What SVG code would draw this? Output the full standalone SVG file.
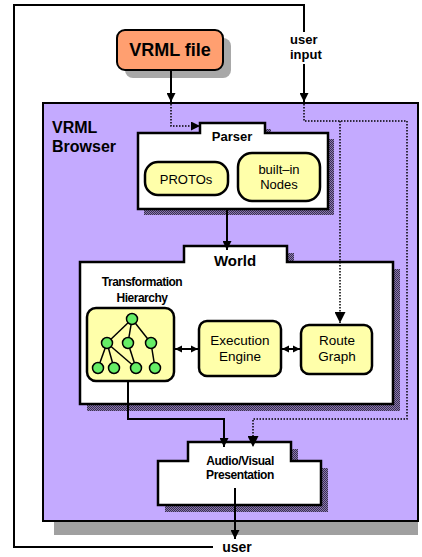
<svg xmlns="http://www.w3.org/2000/svg" width="422" height="557" viewBox="0 0 422 557">
<defs>
<pattern id="dither" width="2" height="2" patternUnits="userSpaceOnUse">
<rect width="2" height="2" fill="#8a78b0"/>
<rect width="1" height="1" fill="#3a3050"/>
<rect x="1" y="1" width="1" height="1" fill="#3a3050"/>
</pattern>
<marker id="ah" viewBox="0 0 10 10" refX="10" refY="5" markerWidth="9" markerHeight="9" markerUnits="userSpaceOnUse" orient="auto-start-reverse">
<path d="M0,0 L10,5 L0,10 Z" fill="#000"/>
</marker>
<marker id="ahs" viewBox="0 0 10 10" refX="10" refY="5" markerWidth="7" markerHeight="8" markerUnits="userSpaceOnUse" orient="auto-start-reverse">
<path d="M0,0 L10,5 L0,10 Z" fill="#000"/>
</marker>
<marker id="ahb" viewBox="0 0 10 10" refX="10" refY="5" markerWidth="11" markerHeight="11" markerUnits="userSpaceOnUse" orient="auto-start-reverse">
<path d="M0,0 L10,5 L0,10 Z" fill="#000"/>
</marker>
</defs>
<style>
.b{font-family:"Liberation Sans",Arial,sans-serif;font-weight:bold;fill:#000}
.r{font-family:"Liberation Sans",Arial,sans-serif;font-weight:normal;fill:#000}
.box{stroke:#000;stroke-width:2.5;fill:#fff}
.yel{fill:#ffffaa;stroke:#000;stroke-width:2.5}
.sh{fill:url(#dither)}
.ln{fill:none;stroke:#000;stroke-width:2}
.dot{fill:none;stroke:#000;stroke-width:1.5;stroke-dasharray:1.5 1.5}
.gn{fill:#66ee66;stroke:#000;stroke-width:1.5}
.tl{stroke:#000;stroke-width:1.5}
</style>
<rect width="422" height="557" fill="#fff"/>

<g id="browser">
<rect x="54" y="521" width="364" height="14" fill="#a0a0a0"/>
<rect x="43" y="103" width="375" height="418" fill="#c4aaff" stroke="#000" stroke-width="2"/>
<text class="b" x="52" y="133" font-size="16">VRML</text>
<text class="b" x="52" y="152" font-size="16">Browser</text>
</g>

<g id="vrml-file">
<rect x="125" y="38" width="106" height="40" rx="8" fill="#a8a8a8"/>
<rect x="117" y="30" width="106" height="40" rx="8" fill="#ff9f70" stroke="#000" stroke-width="2"/>
<text class="b" x="170" y="56" font-size="18" text-anchor="middle">VRML file</text>
</g>

<g id="user-input">
<text class="b" x="290" y="44" font-size="13">user</text>
<text class="b" x="290" y="59" font-size="13">input</text>
</g>

<g id="parser">
<path class="sh" d="M144,139 H206 V129 H271 V139 H334 V215 H144 Z"/>
<path class="box" d="M138,133 H200 V123 H265 V133 H328 V209 H138 Z"/>
<text class="b" x="232" y="141" font-size="13" text-anchor="middle">Parser</text>
</g>

<g id="protos">
<rect class="yel" x="145" y="162" width="83" height="33" rx="13"/>
<text class="r" x="186" y="184" font-size="13" text-anchor="middle">PROTOs</text>
</g>

<g id="builtin">
<rect class="yel" x="238" y="153" width="82" height="48" rx="14"/>
<text class="r" x="279" y="174" font-size="13" text-anchor="middle">built–in</text>
<text class="r" x="279" y="189" font-size="13" text-anchor="middle">Nodes</text>
</g>

<g id="world">
<path class="sh" d="M87,269 H191 V253 H294 V269 H400 V411 H87 Z"/>
<path class="box" d="M80,262 H184 V246 H287 V262 H393 V404 H80 Z"/>
<text class="b" x="235" y="266" font-size="15" text-anchor="middle">World</text>
<text class="b" x="142" y="286" font-size="12" text-anchor="middle" letter-spacing="-0.5">Transformation</text>
<text class="b" x="142" y="302" font-size="12" text-anchor="middle" letter-spacing="-0.5">Hierarchy</text>
</g>

<g id="transformation-hierarchy">
<rect class="yel" x="87" y="308" width="87" height="73" rx="9"/>
<line class="tl" x1="132" y1="319" x2="107" y2="343"/>
<line class="tl" x1="132" y1="319" x2="128" y2="343"/>
<line class="tl" x1="132" y1="319" x2="151" y2="343"/>
<line class="tl" x1="107" y1="343" x2="98" y2="368"/>
<line class="tl" x1="107" y1="343" x2="114" y2="368"/>
<line class="tl" x1="107" y1="343" x2="136" y2="368"/>
<line class="tl" x1="128" y1="343" x2="136" y2="368"/>
<line class="tl" x1="151" y1="343" x2="155" y2="368"/>
<circle class="gn" cx="132" cy="319" r="5.5"/>
<circle class="gn" cx="107" cy="343" r="5.5"/>
<circle class="gn" cx="128" cy="343" r="5.5"/>
<circle class="gn" cx="151" cy="343" r="5.5"/>
<circle class="gn" cx="98" cy="368" r="5.5"/>
<circle class="gn" cx="114" cy="368" r="5.5"/>
<circle class="gn" cx="136" cy="368" r="5.5"/>
<circle class="gn" cx="155" cy="368" r="5.5"/>
</g>

<g id="execution-engine">
<rect class="yel" x="199" y="321" width="82" height="55" rx="8"/>
<text class="r" x="240" y="345" font-size="13.5" text-anchor="middle">Execution</text>
<text class="r" x="240" y="361" font-size="13.5" text-anchor="middle">Engine</text>
</g>

<g id="route-graph">
<rect class="yel" x="301" y="325" width="71" height="49" rx="8"/>
<text class="r" x="337" y="345" font-size="13.5" text-anchor="middle">Route</text>
<text class="r" x="337" y="361" font-size="13.5" text-anchor="middle">Graph</text>
</g>

<g id="audio-visual">
<path class="sh" d="M165,468 H195 V449 H298 V468 H328 V512 H165 Z"/>
<path class="box" d="M158,461 H188 V442 H291 V461 H321 V505 H158 Z"/>
<text class="b" x="240" y="465" font-size="12" text-anchor="middle" letter-spacing="-0.4">Audio/Visual</text>
<text class="b" x="240" y="479" font-size="12" text-anchor="middle" letter-spacing="-0.4">Presentation</text>
</g>

<g id="user">
<text class="b" x="237" y="552" font-size="14" text-anchor="middle">user</text>
</g>

<g id="connectors">
<path class="ln" d="M213,547 H14 V5 H304 V32"/>
<line class="ln" x1="304" y1="64" x2="304" y2="102" marker-end="url(#ah)"/>
<line class="ln" x1="171" y1="70" x2="171" y2="102" marker-end="url(#ah)"/>
<path class="dot" d="M171,104 V126 H200" marker-end="url(#ah)"/>
<path class="dot" d="M304,104 V121 H407 V419 H253 V447" marker-end="url(#ahb)"/>
<path class="dot" d="M340,121 V323" marker-end="url(#ahb)"/>
<line class="ln" x1="227" y1="209" x2="227" y2="250" marker-end="url(#ah)"/>
<line class="ln" x1="175" y1="349" x2="198" y2="349" marker-start="url(#ahs)" marker-end="url(#ahs)"/>
<line class="ln" x1="282" y1="349" x2="300" y2="349" marker-start="url(#ahs)" marker-end="url(#ahs)"/>
<path class="ln" d="M128,381 V419 H224 V447" marker-end="url(#ah)"/>
<line class="ln" x1="235" y1="488" x2="235" y2="539" marker-end="url(#ah)"/>
</g>
</svg>
